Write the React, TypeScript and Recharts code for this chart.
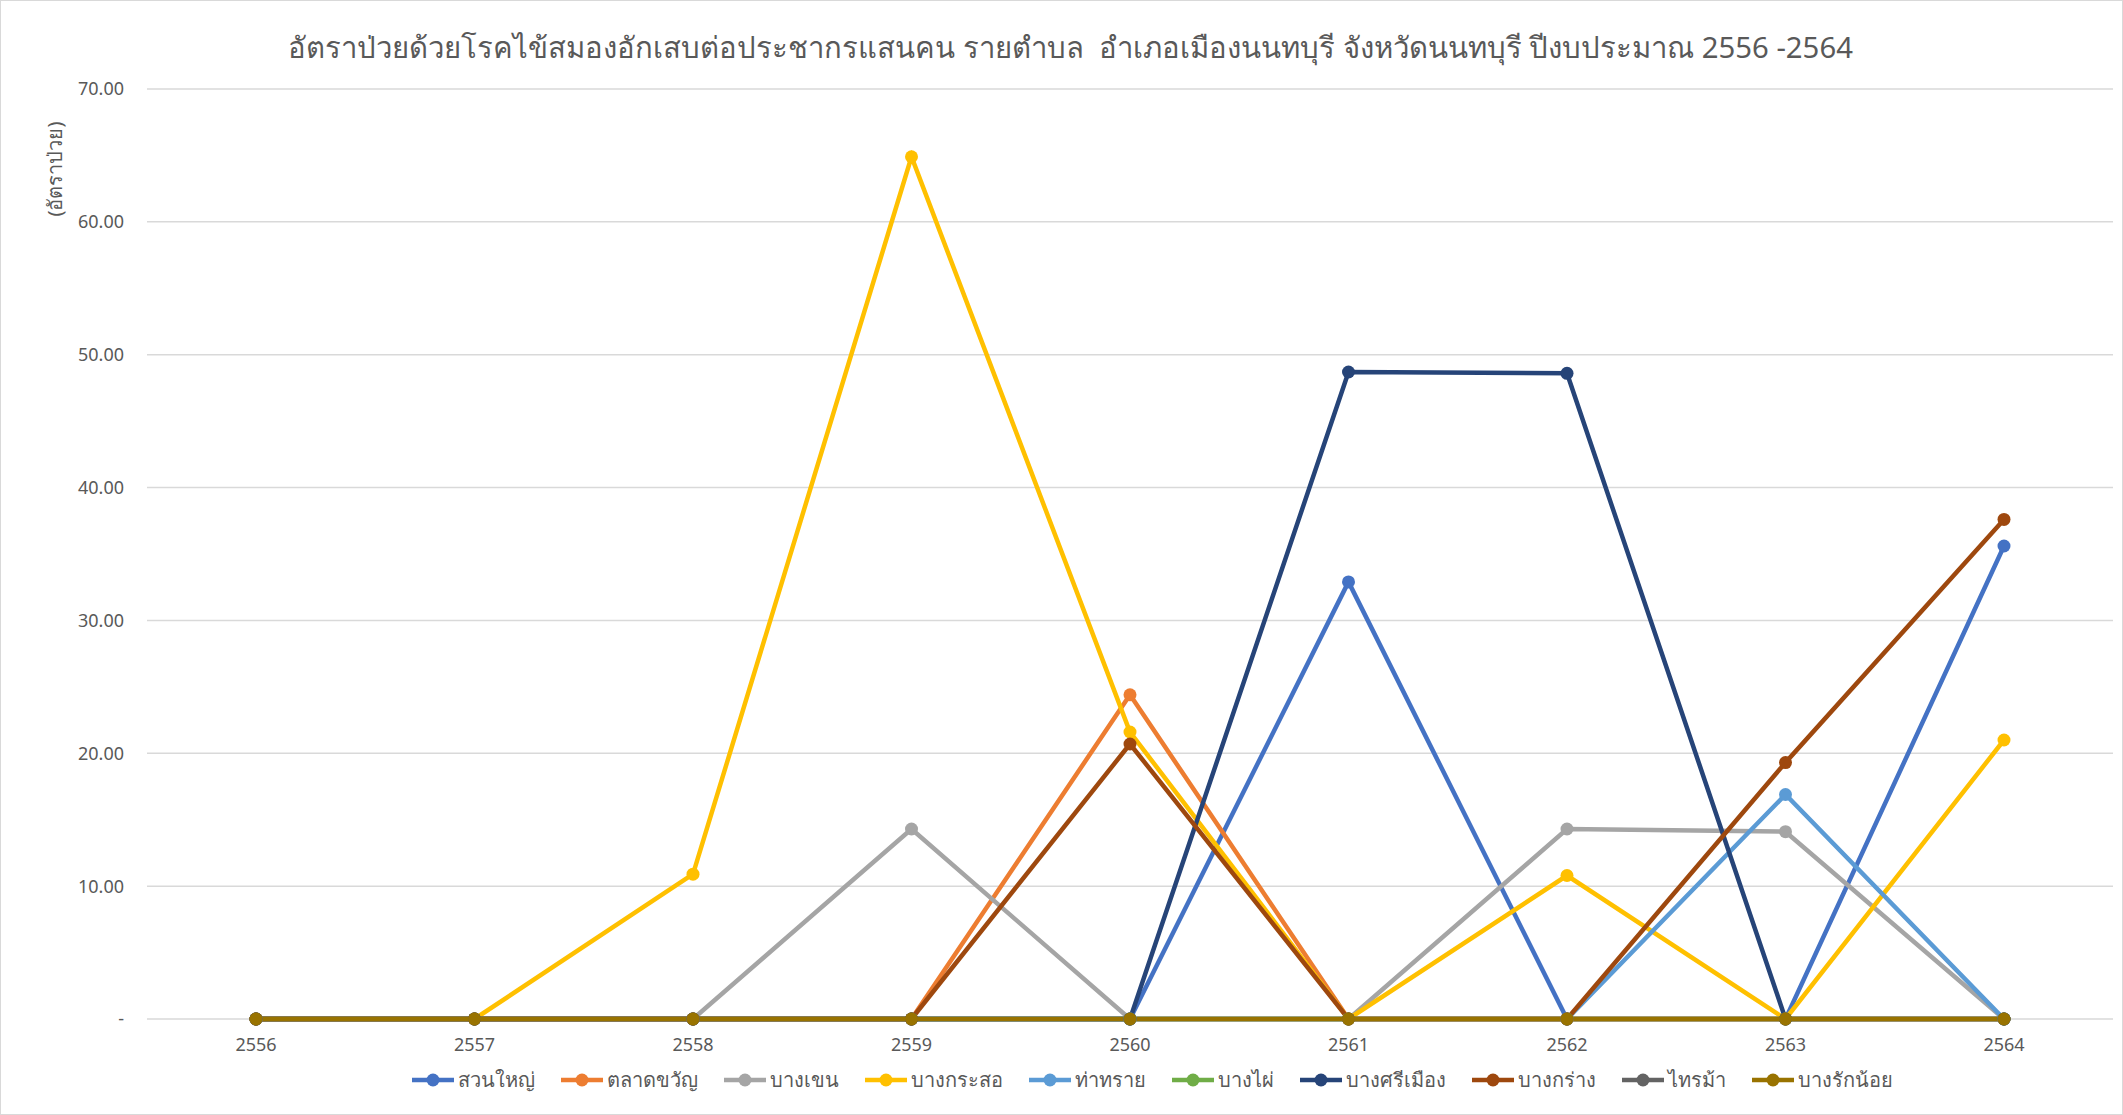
import { CartesianGrid, Line, LineChart, XAxis, YAxis } from "recharts";

const years = ["2556", "2557", "2558", "2559", "2560", "2561", "2562", "2563", "2564"];

const suanYai = [0, 0, 0, 0, 0, 32.9, 0, 0, 35.6];
const talatKhwan = [0, 0, 0, 0, 24.4, 0, 0, 0, 0];
const bangKhen = [0, 0, 0, 14.3, 0, 0, 14.3, 14.1, 0];
const bangKrasor = [0, 0, 10.9, 64.9, 21.6, 0, 10.8, 0, 21.0];
const thaSai = [0, 0, 0, 0, 0, 0, 0, 16.9, 0];
const bangPhai = [0, 0, 0, 0, 0, 0, 0, 0, 0];
const bangSiMueang = [0, 0, 0, 0, 0, 48.7, 48.6, 0, 0];
const bangKrang = [0, 0, 0, 0, 20.7, 0, 0, 19.3, 37.6];
const saiMa = [0, 0, 0, 0, 0, 0, 0, 0, 0];
const bangRakNoi = [0, 0, 0, 0, 0, 0, 0, 0, 0];

const yTicks = [0, 10, 20, 30, 40, 50, 60, 70];

const SERIES = [
  { key: "suanYai", name: "สวนใหญ่", values: suanYai, color: "#4472C4" },
  { key: "talatKhwan", name: "ตลาดขวัญ", values: talatKhwan, color: "#ED7D31" },
  { key: "bangKhen", name: "บางเขน", values: bangKhen, color: "#A5A5A5" },
  { key: "bangKrasor", name: "บางกระสอ", values: bangKrasor, color: "#FFC000" },
  { key: "thaSai", name: "ท่าทราย", values: thaSai, color: "#5B9BD5" },
  { key: "bangPhai", name: "บางไผ่", values: bangPhai, color: "#70AD47" },
  { key: "bangSiMueang", name: "บางศรีเมือง", values: bangSiMueang, color: "#264478" },
  { key: "bangKrang", name: "บางกร่าง", values: bangKrang, color: "#9E480E" },
  { key: "saiMa", name: "ไทรม้า", values: saiMa, color: "#636363" },
  { key: "bangRakNoi", name: "บางรักน้อย", values: bangRakNoi, color: "#997300" },
];

const data = years.map((year, i) => {
  const row: Record<string, string | number> = { year };
  SERIES.forEach((s) => {
    row[s.key] = s.values[i];
  });
  return row;
});

const FONT = "'Noto Sans', 'Open Sans', sans-serif";

const fmtY = (v: number) => (v === 0 ? "-" : v.toFixed(2));

export default function App() {
  return (
    <div
      style={{
        position: "absolute",
        left: 0,
        top: 0,
        width: 2121,
        height: 1113,
        background: "#fff",
        border: "1px solid #d9d9d9",
        fontFamily: FONT,
      }}
    >
      <div
        style={{
          position: "absolute",
          top: 23,
          left: 9,
          width: "100%",
          textAlign: "center",
          fontSize: 29.3,
          color: "#595959",
        }}
      >
        อัตราป่วยด้วยโรคไข้สมองอักเสบต่อประชากรแสนคน รายตำบล&nbsp; อำเภอเมืองนนทบุรี จังหวัดนนทบุรี ปีงบประมาณ 2556 -2564
      </div>
      <div
        style={{
          position: "absolute",
          left: 54,
          top: 168,
          transform: "translate(-50%, -50%) rotate(-90deg)",
          fontSize: 20,
          color: "#595959",
          whiteSpace: "nowrap",
        }}
      >
        (อัตราป่วย)
      </div>
      <LineChart
        width={2121}
        height={1113}
        data={data}
        margin={{ top: 88, right: 9, left: 0, bottom: 65 }}
        style={{ position: "absolute", left: 0, top: 0 }}
      >
        <CartesianGrid vertical={false} stroke="#d9d9d9" strokeWidth={1.5} />
        <XAxis
          dataKey="year"
          axisLine={false}
          tickLine={false}
          tickMargin={13}
          height={30}
          padding={{ left: 109, right: 109 }}
          tick={{ fontSize: 18, fill: "#595959", fontFamily: FONT }}
        />
        <YAxis
          domain={[0, 70]}
          ticks={yTicks}
          tickFormatter={fmtY}
          axisLine={false}
          tickLine={false}
          tickMargin={17}
          width={146}
          tick={{ fontSize: 18, fill: "#595959", fontFamily: FONT }}
        />
        {SERIES.map((s) => (
          <Line
            key={s.key}
            type="linear"
            dataKey={s.key}
            name={s.name}
            stroke={s.color}
            strokeWidth={4.5}
            dot={{ r: 6.5, fill: s.color, stroke: s.color, strokeWidth: 0 }}
            activeDot={false}
            isAnimationActive={false}
          />
        ))}
      </LineChart>
      <div
        style={{
          position: "absolute",
          top: 1063,
          left: 90,
          width: "100%",
          display: "flex",
          justifyContent: "center",
          gap: 24,
          fontSize: 20,
          color: "#595959",
        }}
      >
        {SERIES.map((s) => (
          <div key={s.key} style={{ display: "flex", alignItems: "center" }}>
            <svg width={46} height={20}>
              <line x1={2} y1={10} x2={44} y2={10} stroke={s.color} strokeWidth={4.5} />
              <circle cx={23} cy={10} r={6.5} fill={s.color} />
            </svg>
            <span style={{ marginLeft: 2 }}>{s.name}</span>
          </div>
        ))}
      </div>
    </div>
  );
}
